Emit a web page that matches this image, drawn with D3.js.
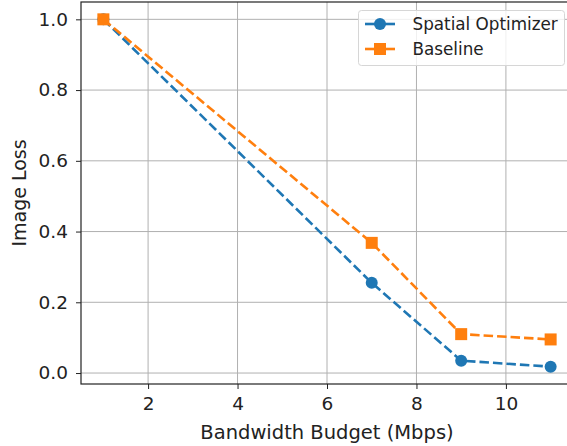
<!DOCTYPE html>
<html><head><meta charset="utf-8">
<script src="https://cdn.jsdelivr.net/npm/d3@7"></script>
<style>body{margin:0;background:#fff}svg{display:block}text{font-family:"DejaVu Sans",sans-serif}</style>
</head><body><svg id="c" width="567" height="446"></svg>
<script>
const xValues=[1,7,9,11];
const spatial=[1.0,0.255,0.035,0.018];
const baseline=[1.0,0.368,0.110,0.095];
const xTicks=[2,4,6,8,10];
const yTicks=[0.0,0.2,0.4,0.6,0.8,1.0];
const seriesNames=["Spatial Optimizer","Baseline"];
const colors=["#1f77b4","#ff7f0e"];

const svg=d3.select("#c");
const L=81,R=573,T=2,B=384;
const x=d3.scaleLinear().domain([0.5,11.5]).range([L,R]);
const y=d3.scaleLinear().domain([-0.031,1.049]).range([B,T]);

// grid
svg.append("g").selectAll("line").data(xTicks).join("line")
 .attr("x1",d=>x(d)).attr("x2",d=>x(d)).attr("y1",T).attr("y2",B)
 .attr("stroke","#b0b0b0").attr("stroke-width",1);
svg.append("g").selectAll("line").data(yTicks).join("line")
 .attr("y1",d=>y(d)).attr("y2",d=>y(d)).attr("x1",L).attr("x2",R)
 .attr("stroke","#b0b0b0").attr("stroke-width",1);

// axes
const xa=svg.append("g").attr("transform",`translate(0,${B})`)
 .call(d3.axisBottom(x).tickValues(xTicks).tickFormat(d3.format("d")).tickSizeOuter(0).tickSize(5).tickPadding(8));
const ya=svg.append("g").attr("transform",`translate(${L},0)`)
 .call(d3.axisLeft(y).tickValues(yTicks).tickFormat(d3.format(".1f")).tickSizeOuter(0).tickSize(5).tickPadding(8));
[xa,ya].forEach(a=>{a.selectAll("text").attr("font-size",18.5).attr("fill","#222").attr("font-family","DejaVu Sans");
 a.selectAll("line").attr("stroke","#222");a.select(".domain").attr("stroke","none");});
// spines
svg.append("rect").attr("x",L).attr("y",T).attr("width",R-L).attr("height",B-T)
 .attr("fill","none").attr("stroke","#222").attr("stroke-width",1.2);

// series
const data=[spatial,baseline];
const line=d3.line().x((d,i)=>x(xValues[i])).y(d=>y(d));
data.forEach((s,k)=>{
 svg.append("path").datum(s).attr("d",line).attr("fill","none")
  .attr("stroke",colors[k]).attr("stroke-width",2.6).attr("stroke-dasharray","9.5,4");
 if(k===0){
  svg.append("g").selectAll("circle").data(s).join("circle")
   .attr("cx",(d,i)=>x(xValues[i])).attr("cy",d=>y(d)).attr("r",6).attr("fill",colors[k]);
 } else {
  svg.append("g").selectAll("rect").data(s).join("rect")
   .attr("x",(d,i)=>x(xValues[i])-6).attr("y",d=>y(d)-6).attr("width",12).attr("height",12).attr("fill",colors[k]);
 }
});

// legend
const lg=svg.append("g");
lg.append("rect").attr("x",358.5).attr("y",10.5).attr("width",206).attr("height",55).attr("rx",3)
 .attr("fill","#fff").attr("fill-opacity",0.8).attr("stroke","#d6d6d6");
seriesNames.forEach((n,k)=>{
 const yy=24+k*25;
 lg.append("line").attr("x1",365).attr("x2",395).attr("y1",yy).attr("y2",yy)
  .attr("stroke",colors[k]).attr("stroke-width",2.6);
 if(k===0) lg.append("circle").attr("cx",380).attr("cy",yy).attr("r",6).attr("fill",colors[k]);
 else lg.append("rect").attr("x",374).attr("y",yy-6).attr("width",12).attr("height",12).attr("fill",colors[k]);
 lg.append("text").attr("x",412.5).attr("y",yy).attr("dy","0.35em").attr("font-size",16.8).attr("fill","#222").text(n);
});

// labels
svg.append("text").attr("x",(L+R)/2).attr("y",439).attr("text-anchor","middle").attr("font-size",19.5).attr("fill","#222").text("Bandwidth Budget (Mbps)");
svg.append("text").attr("transform",`translate(26,${(T+B)/2}) rotate(-90)`).attr("text-anchor","middle").attr("font-size",19).attr("fill","#222").text("Image Loss");
</script></body></html>
